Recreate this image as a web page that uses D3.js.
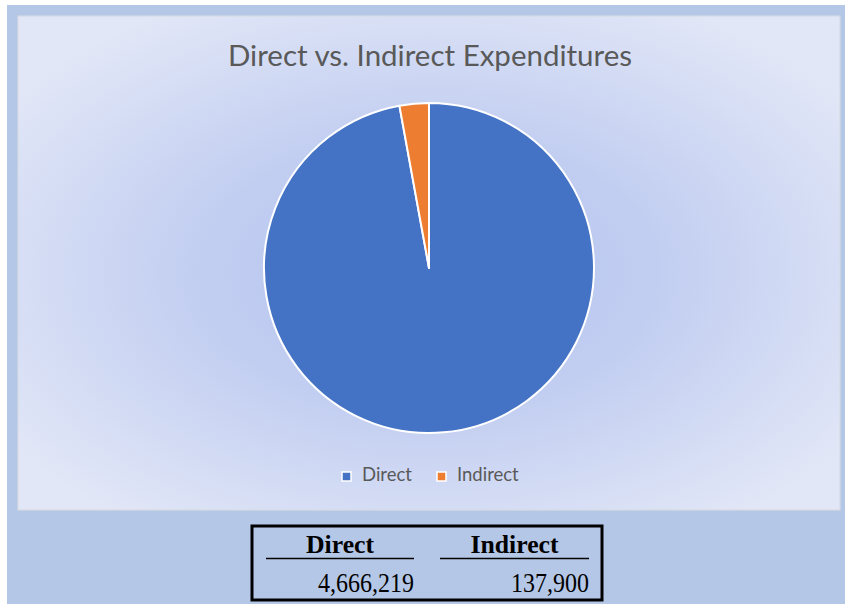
<!DOCTYPE html>
<html>
<head>
<meta charset="utf-8">
<script src="https://cdn.jsdelivr.net/npm/d3@7"></script>
<style>
  html, body { margin: 0; padding: 0; background: #ffffff; }
  svg { display: block; }
</style>
</head>
<body>
<svg id="chart" width="845" height="604"></svg>
<script>
// Expenditure data
const categories = ["Direct", "Indirect"];
const values = [4666219, 137900];
const colors = ["#4472c4", "#ed7d31"];
const title = "Direct vs. Indirect Expenditures";

const svg = d3.select("#chart");
const W = 845, H = 604;

// Page backdrop
svg.append("rect").attr("x", 7).attr("y", 5).attr("width", W - 7).attr("height", H - 5)
  .attr("fill", "#b4c7e7");

// Chart area with radial fill
const defs = svg.append("defs");
const grad = defs.append("radialGradient").attr("id", "bg")
  .attr("cx", "50%").attr("cy", "52%").attr("r", "62%");
grad.append("stop").attr("offset", "0%").attr("stop-color", "#b3c2ee");
grad.append("stop").attr("offset", "45%").attr("stop-color", "#c2cef1");
grad.append("stop").attr("offset", "100%").attr("stop-color", "#e2e7f7");

const area = { x: 18, y: 16, w: 822, h: 494 };
svg.append("rect").attr("x", area.x).attr("y", area.y)
  .attr("width", area.w).attr("height", area.h)
  .attr("fill", "url(#bg)").attr("stroke", "#d6dae3").attr("stroke-width", 1.2);

// Title
svg.append("text").attr("x", 430).attr("y", 66)
  .attr("text-anchor", "middle")
  .attr("font-family", "Lato, 'Open Sans', sans-serif")
  .attr("font-size", 29.5).attr("fill", "#595959")
  .text(title);

// Pie
const cx = 429, cy = 268, R = 165;
const pie = d3.pie().sort(null).value(d => d.value);
const data = categories.map((c, i) => ({ name: c, value: values[i], color: colors[i] }));
const arc = d3.arc().innerRadius(0).outerRadius(R);
svg.append("g").attr("transform", `translate(${cx},${cy})`)
  .selectAll("path").data(pie(data)).join("path")
  .attr("d", arc)
  .attr("fill", d => d.data.color)
  .attr("stroke", "#ffffff").attr("stroke-width", 2).attr("stroke-linejoin", "round");

// Legend
const legendX = [342, 437];
const lg = svg.append("g").selectAll("g").data(data).join("g")
  .attr("transform", (d, i) => `translate(${legendX[i]},472)`);
lg.append("rect").attr("x", 0).attr("y", 0).attr("width", 9).attr("height", 9)
  .attr("fill", d => d.color).attr("stroke", "#ffffff").attr("stroke-width", 1.5);
lg.append("text").attr("x", 20).attr("y", 9)
  .attr("font-family", "Lato, 'Open Sans', sans-serif")
  .attr("font-size", 18.5).attr("fill", "#595959")
  .text(d => d.name);

// Summary table
const table = { x: 252, y: 526, w: 350, h: 74 };
svg.append("rect").attr("x", table.x).attr("y", table.y)
  .attr("width", table.w).attr("height", table.h)
  .attr("fill", "none").attr("stroke", "#000000").attr("stroke-width", 3);

const cols = [{ x0: 266, x1: 414 }, { x0: 440, x1: 589 }];
const fmt = d3.format(",");
const tg = svg.append("g").selectAll("g").data(data).join("g");
tg.append("text")
  .attr("transform", (d, i) => `translate(${(cols[i].x0 + cols[i].x1) / 2},553) scale(1.03,1)`)
  .attr("text-anchor", "middle")
  .attr("font-family", "'Liberation Serif', 'Times New Roman', serif")
  .attr("font-weight", "bold").attr("font-size", 25).attr("fill", "#000000")
  .text(d => d.name);
tg.append("line")
  .attr("x1", (d, i) => cols[i].x0).attr("x2", (d, i) => cols[i].x1)
  .attr("y1", 558.5).attr("y2", 558.5)
  .attr("stroke", "#000000").attr("stroke-width", 1.5);
tg.append("text")
  .attr("transform", (d, i) => `translate(${cols[i].x1},592) scale(1,1.12)`)
  .attr("text-anchor", "end")
  .attr("font-family", "'Liberation Serif', 'Times New Roman', serif")
  .attr("font-size", 24).attr("fill", "#000000")
  .text(d => fmt(d.value));
</script>
</body>
</html>
